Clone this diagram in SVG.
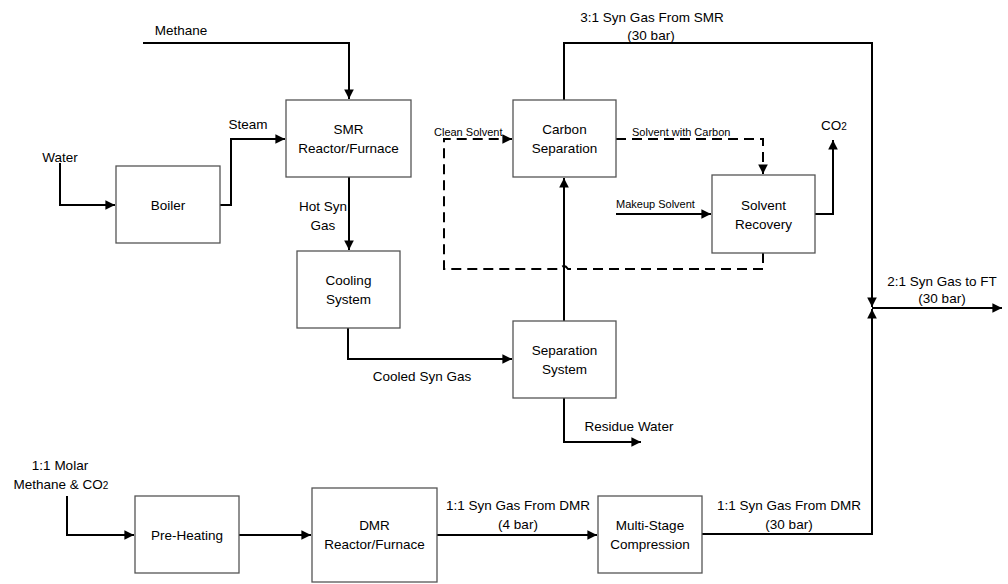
<svg xmlns="http://www.w3.org/2000/svg" width="1008" height="584" viewBox="0 0 1008 584">
<defs>
<marker id="ah" viewBox="0 0 10 10" refX="10" refY="5" markerWidth="4.8" markerHeight="4.8" orient="auto" markerUnits="strokeWidth">
<path d="M0,0 L10,5 L0,10 z" fill="#000"/>
</marker>
</defs>
<style>
.box{fill:#fff;stroke:#555;stroke-width:1.3}
.t{font-family:"Liberation Sans",Arial,sans-serif;font-size:13.5px;fill:#000;text-anchor:middle}
.s{font-family:"Liberation Sans",Arial,sans-serif;font-size:11px;fill:#000}
.ln{fill:none;stroke:#000;stroke-width:2}
.dl{fill:none;stroke:#000;stroke-width:2;stroke-dasharray:10,6}
</style>
<rect width="1008" height="584" fill="#fff"/>
<g id="connectors">
<path class="ln" d="M143,43 H349 V99" marker-end="url(#ah)"/>
<path class="ln" d="M60,163 V205 H115" marker-end="url(#ah)"/>
<path class="ln" d="M220,205 H231 V139 H285" marker-end="url(#ah)"/>
<path class="ln" d="M349,177 V250" marker-end="url(#ah)"/>
<path class="ln" d="M348,328 V359 H512" marker-end="url(#ah)"/>
<path class="ln" d="M564,398 V442 H641" marker-end="url(#ah)"/>
<path class="ln" d="M564,321 V178" marker-end="url(#ah)"/>
<path class="ln" d="M564,100 V43 H872 V307" marker-end="url(#ah)"/>
<path class="ln" d="M702,534 H872 V309" marker-end="url(#ah)"/>
<path class="ln" d="M872,308 H1002" marker-end="url(#ah)"/>
<path class="ln" d="M616,214 H711" marker-end="url(#ah)"/>
<path class="ln" d="M815,214 H833 V140" marker-end="url(#ah)"/>
<path class="ln" d="M67,496 V535 H134" marker-end="url(#ah)"/>
<path class="ln" d="M239,535 H311" marker-end="url(#ah)"/>
<path class="ln" d="M437,535 H597" marker-end="url(#ah)"/>
<path class="dl" d="M616,139 H763 V174" marker-end="url(#ah)"/>
<path class="dl" d="M763,253 V269 H568 Q564,263 560,269 H444 V139 H512" marker-end="url(#ah)"/>
</g>
<g id="boiler"><rect class="box" x="116" y="166" width="104" height="77"/><text class="t" x="168" y="210">Boiler</text></g>
<g id="smr"><rect class="box" x="286" y="100" width="125" height="77"/><text class="t" x="348.5" y="134">SMR</text><text class="t" x="348.5" y="153">Reactor/Furnace</text></g>
<g id="cooling"><rect class="box" x="297" y="251" width="103" height="77"/><text class="t" x="348.5" y="285">Cooling</text><text class="t" x="348.5" y="304">System</text></g>
<g id="separation"><rect class="box" x="513" y="321" width="103" height="77"/><text class="t" x="564.5" y="355">Separation</text><text class="t" x="564.5" y="374">System</text></g>
<g id="carbon"><rect class="box" x="513" y="100" width="103" height="77"/><text class="t" x="564.5" y="134">Carbon</text><text class="t" x="564.5" y="153">Separation</text></g>
<g id="recovery"><rect class="box" x="712" y="175" width="103" height="78"/><text class="t" x="763.5" y="210">Solvent</text><text class="t" x="763.5" y="229">Recovery</text></g>
<g id="preheating"><rect class="box" x="135" y="496" width="104" height="77"/><text class="t" x="187" y="540">Pre-Heating</text></g>
<g id="dmr"><rect class="box" x="312" y="488" width="125" height="94"/><text class="t" x="374.5" y="530">DMR</text><text class="t" x="374.5" y="549">Reactor/Furnace</text></g>
<g id="compression"><rect class="box" x="598" y="496" width="104" height="77"/><text class="t" x="650" y="530">Multi-Stage</text><text class="t" x="650" y="549">Compression</text></g>
<g id="labels">
<text class="t" x="181" y="35">Methane</text>
<text class="t" x="60" y="162">Water</text>
<text class="t" x="248" y="129">Steam</text>
<text class="t" x="323" y="211">Hot Syn</text>
<text class="t" x="323" y="230">Gas</text>
<text class="t" x="422" y="381">Cooled Syn Gas</text>
<text class="t" x="629" y="431">Residue Water</text>
<text class="t" x="652" y="22">3:1 Syn Gas From SMR</text>
<text class="t" x="651" y="40">(30 bar)</text>
<text class="t" x="942" y="286">2:1 Syn Gas to FT</text>
<text class="t" x="942" y="303">(30 bar)</text>
<text class="t" x="834" y="130">CO<tspan font-size="10">2</tspan></text>
<text class="t" x="60" y="470">1:1 Molar</text>
<text class="t" x="61" y="489">Methane &amp; CO<tspan font-size="10">2</tspan></text>
<text class="t" x="518" y="510">1:1 Syn Gas From DMR</text>
<text class="t" x="518" y="529">(4 bar)</text>
<text class="t" x="789" y="510">1:1 Syn Gas From DMR</text>
<text class="t" x="789" y="529">(30 bar)</text>
<text class="s" x="434" y="136">Clean Solvent</text>
<text class="s" x="632" y="136">Solvent with Carbon</text>
<text class="s" x="616" y="208">Makeup Solvent</text>
</g>
</svg>
